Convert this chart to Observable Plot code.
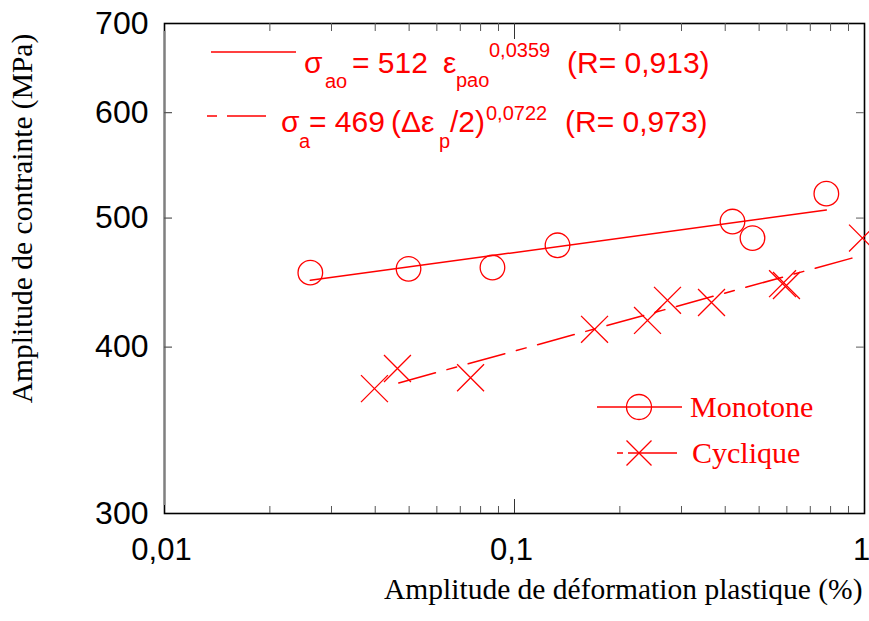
<!DOCTYPE html>
<html><head><meta charset="utf-8">
<script src="https://cdn.jsdelivr.net/npm/d3@7"></script>
<script src="https://cdn.jsdelivr.net/npm/@observablehq/plot@0.6"></script>
<style>
body{margin:0;background:#fff;}
#chart svg{display:block;}
</style>
</head><body><div id="chart"></div>
<script>
// ---- data ----
const monoStrain = [0.0261, 0.0498, 0.0865, 0.1327, 0.4196, 0.4786, 0.778];
const monoStress = [455, 458, 459, 477, 497, 483, 521.6];
const cycStrain = [0.0398, 0.0463, 0.0749, 0.1693, 0.2399, 0.2736, 0.3655, 0.5832, 0.5984, 0.987];
const cycStress = [372.3, 385.5, 379.4, 412.5, 418.9, 433.7, 432.1, 446.4, 445, 483];
const fitMonoStrain = [0.0261, 0.778];
const fitMonoStress = [449, 507];
const fitCycStrain = [0.0467, 0.96];
const fitCycStress = [376, 468];
const yTicks = [300, 400, 500, 600, 700];
const yInnerTicks = [400, 500, 600];
const xTicks = [0.01, 0.1, 1];
const xMajorInner = [0.1];
const xMinor = [0.02, 0.03, 0.04, 0.05, 0.06, 0.07, 0.08, 0.09, 0.2, 0.3, 0.4, 0.5, 0.6, 0.7, 0.8, 0.9];
const xLabel = "Amplitude de déformation plastique (%)";
const yLabel = "Amplitude de contrainte (MPa)";
const legendNames = ["Monotone", "Cyclique"];

const RED = "#ff0000";
const SANS = "'Liberation Sans', Arial, sans-serif";
const SERIF = "'Liberation Serif', 'Times New Roman', serif";
const W = 869, H = 621, ML = 164, MR = 5, MT = 23, MB = 108;
const PW = W - ML - MR, PH = H - MT - MB;

const mono = monoStrain.map((x, i) => ({x, y: monoStress[i]}));
const cyc = cycStrain.map((x, i) => ({x, y: cycStress[i]}));
const fitMono = fitMonoStrain.map((x, i) => ({x, y: fitMonoStress[i]}));
const fitCyc = fitCycStrain.map((x, i) => ({x, y: fitCycStress[i]}));
const fmt = d => String(d).replace(".", ",");

const chart = Plot.plot({
  width: W, height: H,
  marginLeft: ML, marginRight: MR, marginTop: MT, marginBottom: MB,
  style: {fontFamily: SANS, background: "#fff", overflow: "visible"},
  x: {type: "log", domain: [0.01, 1]},
  y: {type: "log", domain: [300, 700]},
  marks: [
    Plot.frame({stroke: "#000", strokeWidth: 1.6}),
    Plot.ruleX([0.01], {stroke: "#808080", strokeWidth: 1.8, insetTop: 8, insetBottom: 8}),
    // inward ticks
    Plot.ruleX(xMinor, {stroke: "#555", strokeWidth: 1, insetTop: PH - 7}),
    Plot.ruleX(xMinor, {stroke: "#555", strokeWidth: 1, insetBottom: PH - 8}),
    Plot.ruleX(xMajorInner, {stroke: "#333", strokeWidth: 1, insetTop: PH - 14}),
    Plot.ruleX(xMajorInner, {stroke: "#333", strokeWidth: 1, insetBottom: PH - 16}),
    Plot.ruleY(yInnerTicks, {stroke: "#555", strokeWidth: 1.2, insetRight: PW - 8}),
    Plot.ruleY(yInnerTicks, {stroke: "#777", strokeWidth: 1.2, insetLeft: PW - 8}),
    Plot.axisY({ticks: yTicks, tickSize: 0, tickPadding: 16, fontSize: 32, label: null, tickFormat: d => String(d), fill: "#000"}),
    Plot.axisX({ticks: xTicks, tickSize: 0, tickPadding: 24, dx: -3, fontSize: 31, label: null, tickFormat: fmt, fill: "#000"}),
    // fits
    Plot.line(fitMono, {x: "x", y: "y", stroke: RED, strokeWidth: 1.5}),
    Plot.line(fitCyc, {x: "x", y: "y", stroke: RED, strokeWidth: 1.5, strokeDasharray: "38,12,10,12"}),
    // data
    Plot.dot(mono, {x: "x", y: "y", r: 12.3, stroke: RED, strokeWidth: 1.3, fill: "none"}),
    Plot.dot(cyc, {x: "x", y: "y", symbol: "times", r: 12.3, stroke: RED, strokeWidth: 1.3}),
    // axis titles
    Plot.text([xLabel], {frameAnchor: "bottom-right", text: d => d, dx: -2, dy: 85, textAnchor: "end", fontSize: 29.5, fontFamily: SERIF, fill: "#000"}),
    Plot.text([yLabel], {frameAnchor: "left", text: d => d, rotate: -90, dx: -142, dy: -50, textAnchor: "middle", fontSize: 29.5, fontFamily: SERIF, fill: "#000"})
  ]
});
document.getElementById("chart").append(chart);

// ---- annotations (equations + legend) ----
const svg = d3.select(chart);
const g = svg.append("g").attr("fill", RED).attr("font-family", SANS).attr("text-anchor", "start");
function t(x, y, s, size) {
  g.append("text").attr("x", x).attr("y", y).attr("font-size", size).text(s);
}
// equation 1
g.append("line").attr("x1", 211).attr("x2", 296).attr("y1", 52).attr("y2", 52).attr("stroke", RED).attr("stroke-width", 1.3);
t(304, 73, "σ", 30); t(325, 88, "ao", 20); t(352, 73, "= 512", 30);
t(443, 73, "ε", 30); t(456, 87, "pao", 20); t(489, 57, "0,0359", 20);
t(567, 73, "(R= 0,913)", 30);
// equation 2
g.append("line").attr("x1", 207).attr("x2", 266).attr("y1", 116).attr("y2", 116).attr("stroke", RED).attr("stroke-width", 1.3).attr("stroke-dasharray", "10,10,39");
t(281, 132, "σ", 30); t(299, 148, "a", 20); t(309, 132, "= 469", 30); t(391, 132, "(Δε", 30);
t(439, 148, "p", 20); t(450, 132, "/2)", 30); t(486, 120, "0,0722", 20);
t(565, 132, "(R= 0,973)", 30);

// legend
const lg = svg.append("g").attr("stroke", RED).attr("fill", "none").attr("stroke-width", 1.3);
lg.append("line").attr("x1", 597).attr("x2", 682).attr("y1", 407).attr("y2", 407);
lg.append("circle").attr("cx", 639).attr("cy", 407).attr("r", 12.5);
lg.append("line").attr("x1", 617).attr("x2", 677).attr("y1", 453).attr("y2", 453).attr("stroke-dasharray", "6,5,60");
lg.append("path").attr("d", "M626.5,440.5L651.5,465.5M626.5,465.5L651.5,440.5");
const lt = svg.append("g").attr("fill", RED).attr("font-family", SERIF).attr("font-size", 30).attr("text-anchor", "start");
lt.append("text").attr("x", 690).attr("y", 417).text(legendNames[0]);
lt.append("text").attr("x", 692).attr("y", 463).text(legendNames[1]);
</script>
</body></html>
